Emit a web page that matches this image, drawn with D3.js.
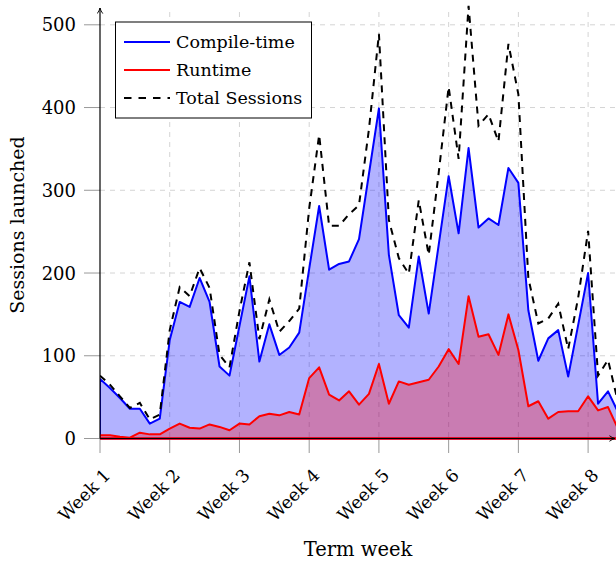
<!DOCTYPE html>
<html>
<head>
<meta charset="utf-8">
<script src="https://cdn.jsdelivr.net/npm/d3@7"></script>
<style>
  body { margin: 0; background: #fff; }
</style>
</head>
<body>
<div id="chart"></div>
<script>
// daily values, one per day starting at Week 1
const compileTime = [72, 61, 49, 36, 36, 18, 24, 119, 165, 159, 194, 165, 87, 76,
    136, 196, 93, 138, 101, 110, 128, 205, 281, 204, 211, 214, 241, 320,
    399, 222, 149, 134, 220, 151, 234, 317, 248, 351, 255, 266, 258, 327,
    309, 155, 94, 121, 131, 75, 137, 200, 42, 57, 32]
const runtime = [4, 4, 2, 1, 7, 5, 5, 12, 18, 13, 12, 17, 14, 10,
    18, 17, 27, 30, 28, 32, 29, 73, 86, 53, 46, 57, 41, 54,
    90, 42, 69, 65, 68, 71, 87, 108, 90, 172, 123, 126, 101, 150,
    107, 39, 45, 24, 32, 33, 33, 51, 34, 38, 12]
const totalSessions = [76, 65, 51, 37, 43, 23, 29, 131, 183, 172, 206, 182, 101, 86,
    154, 213, 120, 168, 129, 142, 157, 278, 367, 257, 257, 271, 282, 374,
    489, 264, 218, 199, 288, 222, 321, 425, 338, 523, 378, 392, 359, 477,
    416, 194, 139, 145, 163, 108, 170, 251, 76, 95, 44]
const weekTicks = [1, 2, 3, 4, 5, 6, 7, 8]
const weekLabels = ["Week 1", "Week 2", "Week 3", "Week 4", "Week 5", "Week 6", "Week 7", "Week 8"]
const yTicks = [0, 100, 200, 300, 400, 500]

let width = 616
let height = 561
let serif = "'DejaVu Serif', 'Liberation Serif', serif"

let svg = d3.select("#chart").append("svg")
    .attr("width", width)
    .attr("height", height)
    .style("font-family", serif)

let x = d3.scaleLinear().domain([1, 8.4]).range([100, 616])
let y = d3.scaleLinear().domain([0, 500]).range([438.5, 24.8])

let dayWeek = i => 1 + i / 7

svg.append("defs").append("clipPath").attr("id", "plotClip")
    .append("rect")
    .attr("x", 100).attr("y", 4)
    .attr("width", 516).attr("height", 436)

let marker = svg.select("defs").append("marker")
    .attr("id", "arrow")
    .attr("viewBox", "0 0 10 10")
    .attr("refX", 9).attr("refY", 5)
    .attr("markerWidth", 7).attr("markerHeight", 7)
    .attr("markerUnits", "userSpaceOnUse")
    .attr("orient", "auto")
marker.append("path")
    .attr("d", "M1,1 Q5,4 9,5 Q5,6 1,9")
    .attr("fill", "none")
    .attr("stroke", "#000")
    .attr("stroke-width", 1.3)

// grid
let grid = svg.append("g")
    .attr("stroke", "#d4d4d4")
    .attr("stroke-width", 1)
    .attr("stroke-dasharray", "5,5")
grid.selectAll(".vg").data(weekTicks.slice(1)).join("line")
    .attr("x1", d => x(d)).attr("x2", d => x(d))
    .attr("y1", 12).attr("y2", 438.5)
grid.selectAll(".hg").data(yTicks.slice(1)).join("line")
    .attr("x1", 100).attr("x2", 616)
    .attr("y1", d => y(d)).attr("y2", d => y(d))

// tick marks (outside)
let ticks = svg.append("g").attr("stroke", "#999").attr("stroke-width", 1)
ticks.selectAll(".xt").data(weekTicks).join("line")
    .attr("x1", d => x(d)).attr("x2", d => x(d))
    .attr("y1", 438.5).attr("y2", 453)
ticks.selectAll(".yt").data(yTicks).join("line")
    .attr("x1", 84).attr("x2", 100)
    .attr("y1", d => y(d)).attr("y2", d => y(d))

let plot = svg.append("g").attr("clip-path", "url(#plotClip)")

let areaOf = vals => d3.area()
    .x((d, i) => x(dayWeek(i)))
    .y0(y(0))
    .y1(d => y(d))(vals)

// areas are closed and stroked all round, like the original
plot.append("path")
    .attr("d", areaOf(compileTime) + "Z")
    .attr("fill", "rgba(0,0,255,0.3)")
    .attr("stroke", "#0000ff")
    .attr("stroke-width", 2)
    .attr("stroke-linejoin", "round")

plot.append("path")
    .attr("d", areaOf(runtime) + "Z")
    .attr("fill", "rgba(255,0,0,0.3)")
    .attr("stroke", "#ff0000")
    .attr("stroke-width", 2)
    .attr("stroke-linejoin", "round")

plot.append("path")
    .attr("d", d3.line().x((d, i) => x(dayWeek(i))).y(d => y(d))(totalSessions))
    .attr("fill", "none")
    .attr("stroke", "#000")
    .attr("stroke-width", 2)
    .attr("stroke-dasharray", "7,6")

// axis lines with arrows
svg.append("line")
    .attr("x1", 100).attr("y1", 438.5).attr("x2", 100).attr("y2", 8)
    .attr("stroke", "#000").attr("stroke-width", 1.2)
    .attr("marker-end", "url(#arrow)")
svg.append("line")
    .attr("x1", 100).attr("y1", 438.5).attr("x2", 615).attr("y2", 438.5)
    .attr("stroke", "#000").attr("stroke-width", 1.2)
    .attr("marker-end", "url(#arrow)")
// red baseline sits on top of the x axis
plot.append("line")
    .attr("x1", 100).attr("y1", 438.5).attr("x2", 616).attr("y2", 438.5)
    .attr("stroke", "#ff0000").attr("stroke-width", 2)

// tick labels
svg.selectAll(".ylab").data(yTicks).join("text")
    .attr("x", 76)
    .attr("y", d => y(d))
    .attr("dy", "0.36em")
    .attr("text-anchor", "end")
    .style("font-size", "18px")
    .text(d => d)

svg.selectAll(".xlab").data(weekTicks).join("text")
    .attr("transform", d => `translate(${x(d) + 7},${472}) rotate(-45)`)
    .attr("text-anchor", "end")
    .attr("dy", "0.36em")
    .style("font-size", "17.5px")
    .text((d, i) => weekLabels[i])

// axis titles
svg.append("text")
    .attr("x", 358).attr("y", 556)
    .attr("text-anchor", "middle")
    .style("font-size", "19.5px")
    .text("Term week")

svg.append("text")
    .attr("transform", "translate(24,225) rotate(-90)")
    .attr("text-anchor", "middle")
    .style("font-size", "19px")
    .text("Sessions launched")

// legend
let legend = svg.append("g")
legend.append("rect")
    .attr("x", 115.5).attr("y", 22)
    .attr("width", 196).attr("height", 96)
    .attr("fill", "#fff")
    .attr("stroke", "#000")
    .attr("stroke-width", 1)

const legendItems = [
    { name: "Compile-time", color: "#0000ff", dash: null },
    { name: "Runtime", color: "#ff0000", dash: null },
    { name: "Total Sessions", color: "#000", dash: "7.5,7" }
]
legendItems.forEach((d, i) => {
    let ly = 42 + i * 28
    legend.append("line")
        .attr("x1", 124).attr("x2", 170)
        .attr("y1", ly).attr("y2", ly)
        .attr("stroke", d.color)
        .attr("stroke-width", 2)
        .attr("stroke-dasharray", d.dash)
    legend.append("text")
        .attr("x", 176).attr("y", ly)
        .attr("dy", "0.36em")
        .style("font-size", "17.5px")
        .text(d.name)
})
</script>
</body>
</html>
